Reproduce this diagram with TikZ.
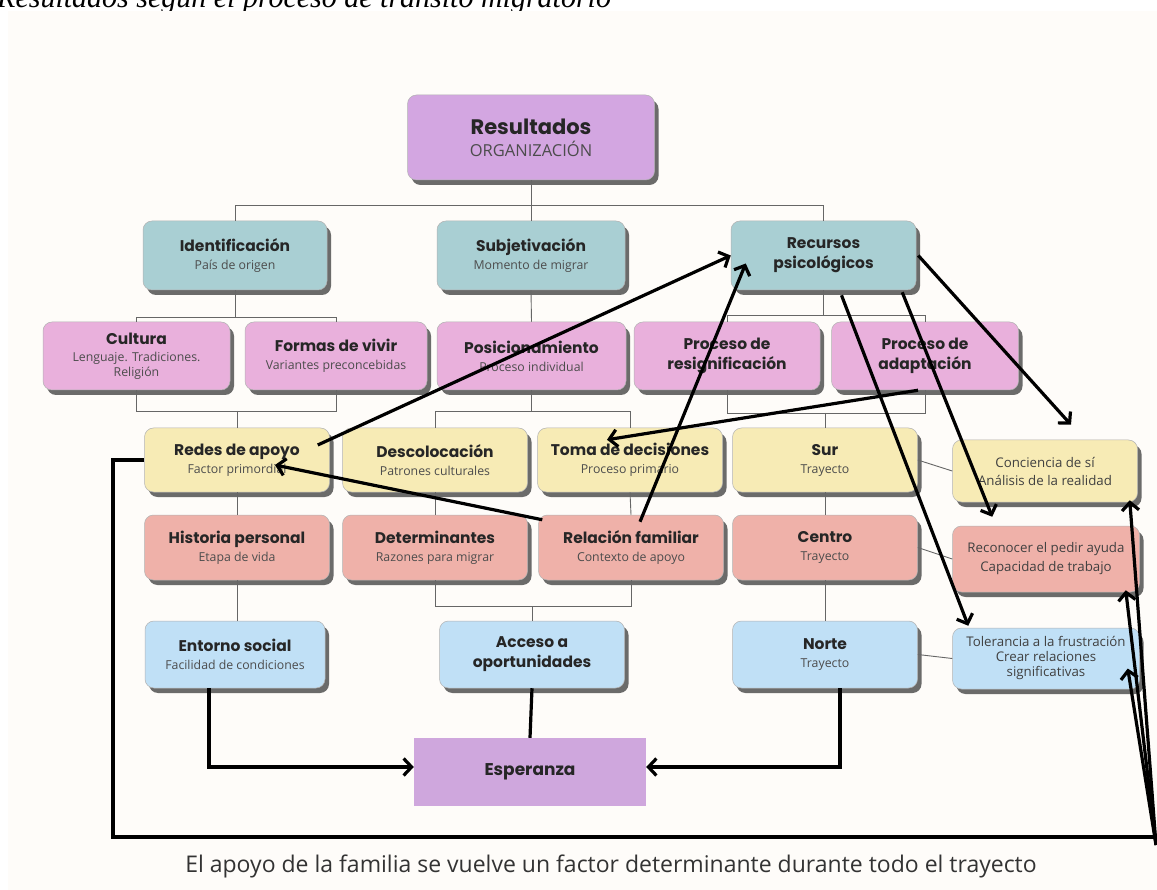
\documentclass[tikz,border=0pt]{standalone}
\usepackage{fontspec}
\setmainfont{Open Sans}
\newfontfamily\titlefont{Poppins}
\newfontfamily\subfont{Open Sans}
\newfontfamily\capfont{Liberation Serif}
\usetikzlibrary{shadows,arrows.meta,calc}
\definecolor{bgc}{HTML}{FEFCF9}
\definecolor{cpur}{HTML}{D3A6E1}
\definecolor{cteal}{HTML}{A9CFD3}
\definecolor{cpink}{HTML}{E9B0DC}
\definecolor{cyel}{HTML}{F7EBB5}
\definecolor{csal}{HTML}{EFB1A9}
\definecolor{cblue}{HTML}{C0E0F6}
\definecolor{cesp}{HTML}{CFA7DD}
\newcommand{\ttl}[1]{{\titlefont\bfseries\color{black!85}#1}}
\newcommand{\sbt}[1]{{\subfont\fontsize{12.3}{14}\selectfont\color{black!70}#1}}
\newcommand{\rtx}[1]{{\subfont\fontsize{13.3}{15}\selectfont\color{black!75}#1}}
\tikzset{
  bx/.style={rounded corners=9pt, draw=black!30, line width=0.5pt, align=center,
    inner sep=1pt, font=\fontsize{15.5}{20}\selectfont,
    drop shadow={shadow xshift=4pt,shadow yshift=-5pt,fill=black!72,opacity=0.8}},
  tl/.style={draw=black!60, line width=0.9pt},
  arr/.style={line width=3.2pt, -{Straight Barb[length=8pt,width=17pt]}},
  thk/.style={line width=3.2pt},
}
\begin{document}
\begin{tikzpicture}[x=1pt,y=-1pt]
\useasboundingbox (0,0) rectangle (1157,890);
\fill[white] (0,0) rectangle (1157,890);
\node[anchor=base west, inner sep=0, font=\capfont\itshape\fontsize{30}{30}\selectfont] (cap) at (-3,8) {Resultados según el proceso de tránsito migratorio};
\fill[bgc] (8,11) rectangle (1157,890);

% row 1
\node[bx, fill=cpur, minimum width=247pt, minimum height=85pt, font=\fontsize{21}{24}\selectfont] (res) at (531,137.5) {\ttl{Resultados}\\[-2pt]{\subfont\fontsize{16.5}{18}\selectfont\color{black!70}ORGANIZACIÓN}};
% row 2
\node[bx, fill=cteal, minimum width=184pt, minimum height=69pt] (ident) at (235,255.5) {\ttl{Identificación}\\[-2pt]\sbt{País de origen}};
\node[bx, fill=cteal, minimum width=188pt, minimum height=69pt] (subj) at (531,255.5) {\ttl{Subjetivación}\\[-2pt]\sbt{Momento de migrar}};
\node[bx, fill=cteal, minimum width=185pt, minimum height=69pt] (recur) at (823.5,255.5) {\ttl{Recursos}\\\ttl{psicológicos}};
% row 3
\node[bx, fill=cpink, minimum width=187pt, minimum height=68pt] (cult) at (136.5,356) {\ttl{Cultura}\\[-3pt]\sbt{Lenguaje. Tradiciones.}\\[-5pt]\sbt{Religión}};
\node[bx, fill=cpink, minimum width=182pt, minimum height=68pt] (formas) at (336,356) {\ttl{Formas de vivir}\\[-2pt]\sbt{Variantes preconcebidas}};
\node[bx, fill=cpink, minimum width=189pt, minimum height=68pt] (posic) at (531.5,356) {\ttl{Posicionamiento}\\[-2pt]\sbt{Proceso individual}};
\node[bx, fill=cpink, minimum width=186pt, minimum height=68pt] (resig) at (727,356) {\ttl{Proceso de}\\\ttl{resignificación}};
\node[bx, fill=cpink, minimum width=187pt, minimum height=68pt] (adapt) at (925,356) {\ttl{Proceso de}\\\ttl{adaptación}};
% row 4
\node[bx, fill=cyel, minimum width=185pt, minimum height=64pt] (redes) at (237,460) {\ttl{Redes de apoyo}\\[-2pt]\sbt{Factor primordial}};
\node[bx, fill=cyel, minimum width=185pt, minimum height=64pt] (desc) at (435,460) {\ttl{Descolocación}\\[-2pt]\sbt{Patrones culturales}};
\node[bx, fill=cyel, minimum width=185pt, minimum height=64pt] (toma) at (630,460) {\ttl{Toma de decisiones}\\[-2pt]\sbt{Proceso primario}};
\node[bx, fill=cyel, minimum width=185pt, minimum height=64pt] (sur) at (825,460) {\ttl{Sur}\\[-2pt]\sbt{Trayecto}};
\node[bx, fill=cyel, minimum width=185pt, minimum height=62pt] (conc) at (1045,471) {\rtx{Conciencia de sí}\\[-2pt]\rtx{Análisis de la realidad}};
% row 5
\node[bx, fill=csal, minimum width=185pt, minimum height=65pt] (hist) at (237,547.5) {\ttl{Historia personal}\\[-2pt]\sbt{Etapa de vida}};
\node[bx, fill=csal, minimum width=185pt, minimum height=65pt] (det) at (435,547.5) {\ttl{Determinantes}\\[-2pt]\sbt{Razones para migrar}};
\node[bx, fill=csal, minimum width=185pt, minimum height=65pt] (rel) at (631,547.5) {\ttl{Relación familiar}\\[-2pt]\sbt{Contexto de apoyo}};
\node[bx, fill=csal, minimum width=185pt, minimum height=65pt] (centro) at (825,547.5) {\ttl{Centro}\\[-2pt]\sbt{Trayecto}};
\node[bx, fill=csal, minimum width=187pt, minimum height=66pt] (recon) at (1046,559) {\rtx{Reconocer el pedir ayuda}\\[-1pt]\rtx{Capacidad de trabajo}};
% row 6
\node[bx, fill=cblue, minimum width=180pt, minimum height=67pt] (ent) at (235,654.5) {\ttl{Entorno social}\\[-2pt]\sbt{Facilidad de condiciones}};
\node[bx, fill=cblue, minimum width=185pt, minimum height=67pt] (acc) at (532,654.5) {\ttl{Acceso a}\\\ttl{oportunidades}};
\node[bx, fill=cblue, minimum width=185pt, minimum height=67pt] (norte) at (825,654.5) {\ttl{Norte}\\[-2pt]\sbt{Trayecto}};
\node[bx, fill=cblue, minimum width=187pt, minimum height=61pt] (toler) at (1046,658.5) {\rtx{Tolerancia a la frustración}\\[-5pt]\rtx{Crear relaciones}\\[-5pt]\rtx{significativas}};
% Esperanza
\node[fill=cesp, minimum width=232pt, minimum height=68pt, font=\fontsize{17}{20}\selectfont] (esp) at (530,772) {\ttl{Esperanza}};
% footer
\node[font=\subfont\fontsize{23}{26}\selectfont, text=black!80, inner sep=0] (foot) at (611,866) {El apoyo de la familia se vuelve un factor determinante durante todo el trayecto};

% tree lines
\draw[tl] (res.south) -- (subj.north);
\draw[tl] (ident.north) -- (235,205) -- (823.5,205) -- (recur.north);
\draw[tl] (ident.south) -- (235,317);
\draw[tl] (cult.north) -- (136.5,317) -- (336,317) -- (formas.north);
\draw[tl] (subj.south) -- (posic.north);
\draw[tl] (recur.south) -- (823.5,315);
\draw[tl] (resig.north) -- (727,315) -- (925,315) -- (adapt.north);
\draw[tl] (cult.south) -- (136.5,411) -- (336,411) -- (formas.south);
\draw[tl] (237,411) -- (redes.north);
\draw[tl] (posic.south) -- (531.5,411);
\draw[tl] (desc.north) -- (435,411) -- (630,411) -- (toma.north);
\draw[tl] (resig.south) -- (727,413) -- (925,413) -- (adapt.south);
\draw[tl] (825,413) -- (sur.north);
\draw[tl] (redes.south) -- (hist.north);
\draw[tl] (hist.south) -- (237,621);
\draw[tl] (desc.south) -- (det.north);
\draw[tl] (toma.south) -- (rel.north);
\draw[tl] (det.south) -- (435,606) -- (631,606) -- (rel.south);
\draw[tl] (532,606) -- (acc.north);
\draw[tl] (sur.south) -- (centro.north);
\draw[tl] (centro.south) -- (norte.north);
\draw[tl] (sur.east) -- (conc.west);
\draw[tl] (centro.east) -- (recon.west);
\draw[tl] (norte.east) -- (toler.west);

% thick arrows
\draw[arr] ([xshift=-12pt,yshift=15pt]redes.east) -- (recur.west);
\draw[arr] ([xshift=9pt,yshift=-7pt]rel.north) -- ([xshift=15pt,yshift=-8pt]recur.west);
\draw[arr] ([xshift=4pt,yshift=-5pt]rel.north west) -- ([xshift=38pt,yshift=-5pt]redes.center);
\draw[arr] ([xshift=-7pt]adapt.south) -- ([xshift=-23pt,yshift=-12pt]toma.north);
\draw[arr] ([xshift=2pt]recur.east) -- ([xshift=26pt,yshift=15pt]conc.north);
\draw[arr] ([xshift=-14pt,yshift=-2pt]recur.south east) -- ([xshift=40pt,yshift=9pt]recon.north west);
\draw[arr] ([xshift=18pt,yshift=-5pt]recur.south) -- ([xshift=16pt,yshift=2pt]toler.north west);

\coordinate (lc) at (113,837);
\coordinate (rc) at (1156,837);
\coordinate (src) at (1156,845);
\draw[thk] (redes.west) -- (redes.west -| lc) -- (lc) -- (rc);
\draw[arr] (src) -- ([xshift=-8pt,yshift=2pt]conc.south east);
\draw[arr] (src) -- ([xshift=-14pt,yshift=2pt]recon.south east);
\draw[arr] (src) -- ([xshift=-12pt,yshift=-10pt]toler.east);

\draw[arr] ([xshift=-26pt]ent.south) |- ([yshift=5pt]esp.west);
\draw[thk] (acc.south) -- (esp.north);
\draw[arr] ([xshift=15pt]norte.south) |- ([yshift=5pt]esp.east);
\end{tikzpicture}
\end{document}
